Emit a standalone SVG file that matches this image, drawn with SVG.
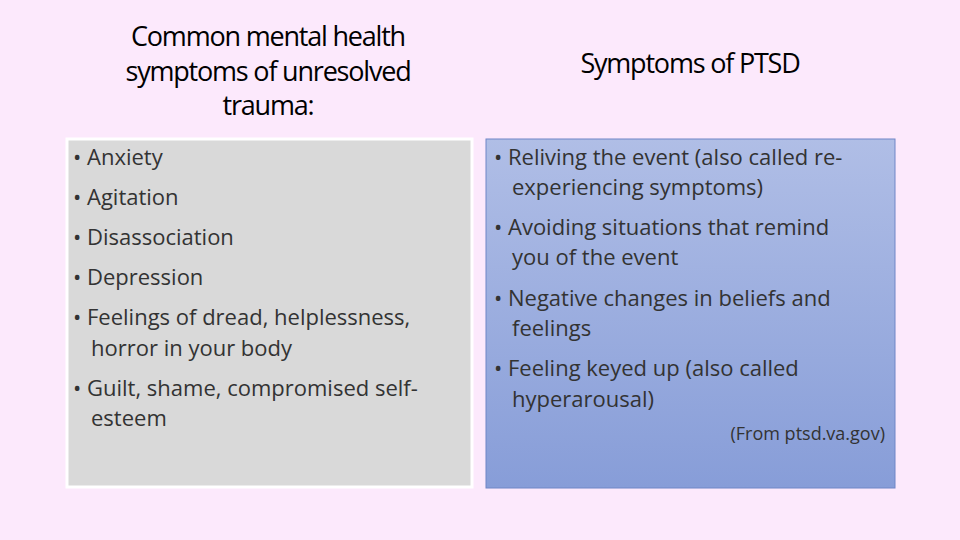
<svg xmlns="http://www.w3.org/2000/svg" width="960" height="540" viewBox="0 0 960 540">
<defs>
<linearGradient id="bl" x1="0" y1="0" x2="0" y2="1"><stop offset="0" stop-color="#B0BEE6"/><stop offset="1" stop-color="#879DD8"/></linearGradient>
<style>
.h{font-family:"Open Sans","Liberation Sans",sans-serif;font-size:27px;fill:#000;text-anchor:middle;letter-spacing:-1.2px}
.t{font-family:"Open Sans","Liberation Sans",sans-serif;font-size:22px;fill:#333}
.s{font-family:"Open Sans","Liberation Sans",sans-serif;font-size:18px;fill:#333;text-anchor:end}
</style>
</defs>
<rect width="960" height="540" fill="#FCE9FC"/>
<g id="left-heading"><text class="h" x="268" y="46">Common mental health</text><text class="h" x="268" y="81">symptoms of unresolved</text><text class="h" x="268" y="115">trauma:</text></g>
<g id="right-heading"><text class="h" x="690" y="73">Symptoms of PTSD</text></g>
<g id="left-box">
<rect x="67" y="139" width="405" height="348" fill="#D9D9D9" stroke="#fff" stroke-width="3"/>
<g class="t">
<text x="73" y="165">• Anxiety</text>
<text x="73" y="205">• Agitation</text>
<text x="73" y="245">• Disassociation</text>
<text x="73" y="285">• Depression</text>
<text x="73" y="325">• Feelings of dread, helplessness,</text>
<text x="91" y="356">horror in your body</text>
<text x="73" y="396">• Guilt, shame, compromised self-</text>
<text x="91" y="426">esteem</text>
</g></g>
<g id="right-box">
<rect x="486" y="139" width="409" height="349" fill="url(#bl)" stroke="#6F86C6" stroke-width="1"/>
<g class="t">
<text x="494" y="165">• Reliving the event (also called re-</text>
<text x="512" y="195">experiencing symptoms)</text>
<text x="494" y="235">• Avoiding situations that remind</text>
<text x="512" y="265">you of the event</text>
<text x="494" y="306">• Negative changes in beliefs and</text>
<text x="512" y="336">feelings</text>
<text x="494" y="376">• Feeling keyed up (also called</text>
<text x="512" y="407">hyperarousal)</text>
</g>
<text class="s" x="885" y="440">(From ptsd.va.gov)</text>
</g>
</svg>
